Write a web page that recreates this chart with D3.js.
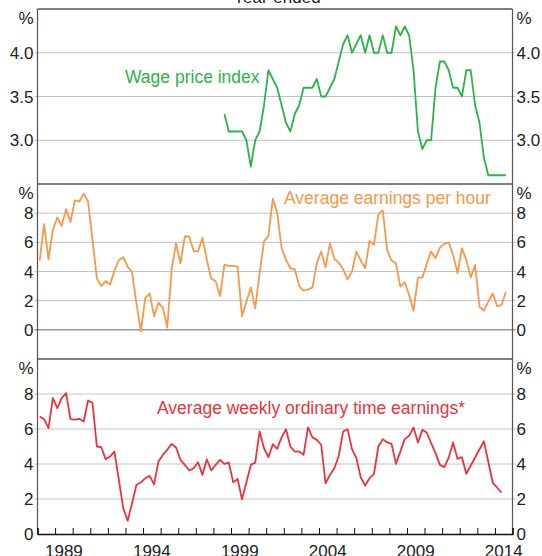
<!DOCTYPE html>
<html>
<head>
<meta charset="utf-8">
<script src="https://cdn.jsdelivr.net/npm/d3@7"></script>
<style>
  body { margin: 0; background: #fff; }
  svg { display: block; }
  text { font-family: Arial, "Liberation Sans", sans-serif; }
</style>
</head>
<body>
<svg id="chart" width="542" height="556"></svg>
<script>
// Year-ended growth, per cent. Quarterly observations, keyed by start quarter.
const wpiStart = "1998-Q3";
const wpi = [
  3.3, 3.1, 3.1, 3.1, 3.1, 3.0, 2.7, 3.0, 3.1, 3.4,
  3.8, 3.7, 3.6, 3.4, 3.2, 3.1, 3.3, 3.4, 3.6, 3.6,
  3.6, 3.7, 3.5, 3.5, 3.6, 3.7, 3.9, 4.1, 4.2, 4.0,
  4.1, 4.2, 4.0, 4.2, 4.0, 4.0, 4.2, 4.0, 4.0, 4.3,
  4.2, 4.3, 4.2, 3.8, 3.1, 2.9, 3.0, 3.0, 3.6, 3.9,
  3.9, 3.8, 3.6, 3.6, 3.5, 3.8, 3.8, 3.4, 3.2, 2.8,
  2.6, 2.6, 2.6, 2.6, 2.6
];

const aephStart = "1988-Q1";
const aeph = [
  4.75, 7.25, 4.84, 6.86, 7.7, 7.13, 8.28, 7.39, 8.88, 8.8,
  9.33, 8.8, 6.17, 3.53, 3.0, 3.35, 3.1, 4.06, 4.79, 4.98,
  4.33, 3.94, 1.81, -0.1, 2.18, 2.5, 0.94, 1.86, 1.51, 0.16,
  4.15, 5.94, 4.56, 6.4, 6.4, 5.41, 5.37, 6.31, 4.79, 3.51,
  3.35, 2.32, 4.45, 4.38, 4.38, 4.33, 0.94, 1.93, 2.91, 1.47,
  3.88, 6.06, 6.44, 8.99, 8.05, 5.6, 4.79, 4.22, 4.15, 3.0,
  2.68, 2.78, 2.89, 4.56, 5.37, 4.29, 5.94, 4.86, 4.61, 4.15,
  3.46, 3.99, 5.37, 4.75, 4.22, 6.1, 5.83, 7.94, 8.19, 5.48,
  4.75, 4.56, 2.96, 3.26, 2.39, 1.31, 3.58, 3.58, 4.52, 5.37,
  4.91, 5.64, 5.89, 5.99, 5.14, 3.88, 5.6, 4.79, 3.6, 4.45,
  1.58, 1.31, 1.93, 2.5, 1.63, 1.7, 2.61
];

const awoteStart = "1988-Q1";
const awoteQuarterly = [
  6.72, 6.56, 6.05, 7.77, 7.19, 7.77, 8.05, 6.56, 6.53, 6.58,
  6.43, 7.63, 7.48, 5.0, 4.96, 4.27, 4.43, 4.71, 3.09, 1.47,
  0.76, 1.76, 2.81, 2.94, 3.19, 3.32, 2.84, 4.14, 4.52, 4.81,
  5.15, 4.94, 4.24, 3.95, 3.63, 3.76, 4.1, 3.38, 4.27, 3.63,
  3.95, 4.24, 4.01, 4.08, 2.96, 3.15, 1.98, 2.94, 3.95, 4.08,
  5.86, 4.9, 4.39, 5.13, 4.87, 5.52, 5.99, 5.0, 4.71, 4.71,
  4.52, 6.09, 5.52, 5.38, 5.1, 2.9, 3.38, 3.76, 4.47, 5.86,
  5.99, 4.85, 4.33, 3.23, 2.77, 3.19, 3.42, 5.0, 5.42, 5.23,
  5.15, 4.01, 4.71, 5.42, 5.61, 6.09, 5.23, 5.95, 5.8, 5.19,
  4.62, 3.95, 3.82, 4.37, 5.23, 4.29, 4.39, 3.44
];
// Survey became half-yearly (May and November) after mid-2012
const awoteHalfYearPeriods = ["2012-Q4", "2013-Q2", "2013-Q4", "2014-Q2"];
const awoteHalfYearly = [4.37, 5.3, 2.94, 2.37];

const seriesNames = ["Wage price index", "Average earnings per hour", "Average weekly ordinary time earnings*"];
const seriesColors = ["#2db34a", "#f7984a", "#ea3340"];
const panelTicks = [[3.0, 3.5, 4.0], [0, 2, 4, 6, 8], [0, 2, 4, 6, 8]];
const panelDomains = [[2.5, 4.5], [-2, 10], [0, 10]];
const yearLabels = [1989, 1994, 1999, 2004, 2009, 2014];
const title = "Year-ended";

// Quarter label -> decimal year at the middle of the quarter
function quarterTime(label) {
  const [y, q] = label.split("-Q").map(Number);
  return y + (q - 0.5) / 4;
}
function quarterLabels(start, n) {
  let [y, q] = start.split("-Q").map(Number);
  const out = [];
  for (let i = 0; i < n; i++) {
    out.push(y + "-Q" + q);
    q++; if (q > 4) { q = 1; y++; }
  }
  return out;
}
function pairs(labels, values) {
  return labels.map((l, i) => ({ t: quarterTime(l), v: values[i] }));
}

const wpiData = pairs(quarterLabels(wpiStart, wpi.length), wpi);
const aephData = pairs(quarterLabels(aephStart, aeph.length), aeph);
const awoteData = pairs(quarterLabels(awoteStart, awoteQuarterly.length), awoteQuarterly)
  .concat(pairs(awoteHalfYearPeriods, awoteHalfYearly));

const svg = d3.select("#chart");
const left = 37.5, right = 512.5;
const panelTops = [9, 184, 359], panelH = 175;
const x = d3.scaleLinear().domain([1988, 2015]).range([left, right]);

const gridColor = "#c4c4c4", frameColor = "#555", fontSize = 17;

const panels = panelTops.map((top, i) => ({
  top, bottom: top + panelH,
  y: d3.scaleLinear().domain(panelDomains[i]).range([top + panelH, top])
}));

panels.forEach((p, i) => {
  const g = svg.append("g");
  // horizontal gridlines with short outward ticks
  const ticks = panelTicks[i];
  g.selectAll("line.grid").data(ticks).join("line")
    .attr("x1", left - 3).attr("x2", right + 3)
    .attr("y1", d => p.y(d)).attr("y2", d => p.y(d))
    .attr("stroke", d => (d === 0 && i === 1) ? "#666" : gridColor)
    .attr("stroke-width", 1)
    .attr("display", d => (d === 0 && i === 2) ? "none" : null);

  const fmt = i === 0 ? d3.format(".1f") : d3.format("d");
  // left and right tick labels
  [[left - 4, "end"], [right + 4, "start"]].forEach(([tx, anchor]) => {
    g.selectAll(null).data(ticks).join("text")
      .attr("x", tx).attr("y", d => p.y(d)).attr("dy", "0.36em")
      .attr("text-anchor", anchor).attr("font-size", fontSize).attr("fill", "#222")
      .text(fmt);
    g.append("text").attr("x", tx).attr("y", p.top + 14.5)
      .attr("text-anchor", anchor).attr("font-size", fontSize).attr("fill", "#222")
      .text("%");
  });
});

// series lines
const seriesData = [wpiData, aephData, awoteData];
seriesData.forEach((data, i) => {
  const y = panels[i].y;
  svg.append("path").datum(data)
    .attr("fill", "none").attr("stroke", seriesColors[i]).attr("stroke-width", 1.8)
    .attr("stroke-linejoin", "round")
    .attr("d", d3.line().x(d => x(d.t)).y(d => y(d.v)));
});

// series labels
const labelPos = [[125, 83], [284, 204], [157, 414]];
seriesNames.forEach((name, i) => {
  svg.append("text").attr("x", labelPos[i][0]).attr("y", labelPos[i][1])
    .attr("font-size", 17.5).attr("fill", seriesColors[i]).text(name);
});

// frame: top border, panel dividers and side axes
svg.append("line").attr("x1", left).attr("x2", right).attr("y1", panelTops[0]).attr("y2", panelTops[0])
  .attr("stroke", frameColor).attr("stroke-width", 1.5);
panels.slice(1).forEach(p => {
  svg.append("line").attr("x1", left).attr("x2", right).attr("y1", p.top).attr("y2", p.top)
    .attr("stroke", frameColor).attr("stroke-width", 1.5);
});
[left, right].forEach(xx => {
  svg.append("line").attr("x1", xx).attr("x2", xx).attr("y1", panelTops[0]).attr("y2", panels[2].bottom)
    .attr("stroke", frameColor).attr("stroke-width", 1.2);
});

// bottom axis: year boundary ticks pointing inward, labels mid-year
const xAxis = d3.axisBottom(x)
  .tickValues(d3.range(1988, 2016))
  .tickSize(-6)
  .tickFormat("");
const gx = svg.append("g").attr("transform", `translate(0,${panels[2].bottom})`).call(xAxis);
gx.select(".domain").attr("stroke", "#111").attr("stroke-width", 1.3);
gx.selectAll(".tick line").attr("stroke", "#111");

svg.selectAll("text.year").data(yearLabels).join("text")
  .attr("class", "year")
  .attr("x", d => x(d + 0.5)).attr("y", 557)
  .attr("text-anchor", "middle").attr("font-size", fontSize).attr("fill", "#222")
  .text(d => d);

// heading, partly above the visible area
svg.append("text").attr("x", 277).attr("y", 3).attr("text-anchor", "middle")
  .attr("font-size", fontSize).attr("fill", "#222").text(title);
</script>
</body>
</html>
